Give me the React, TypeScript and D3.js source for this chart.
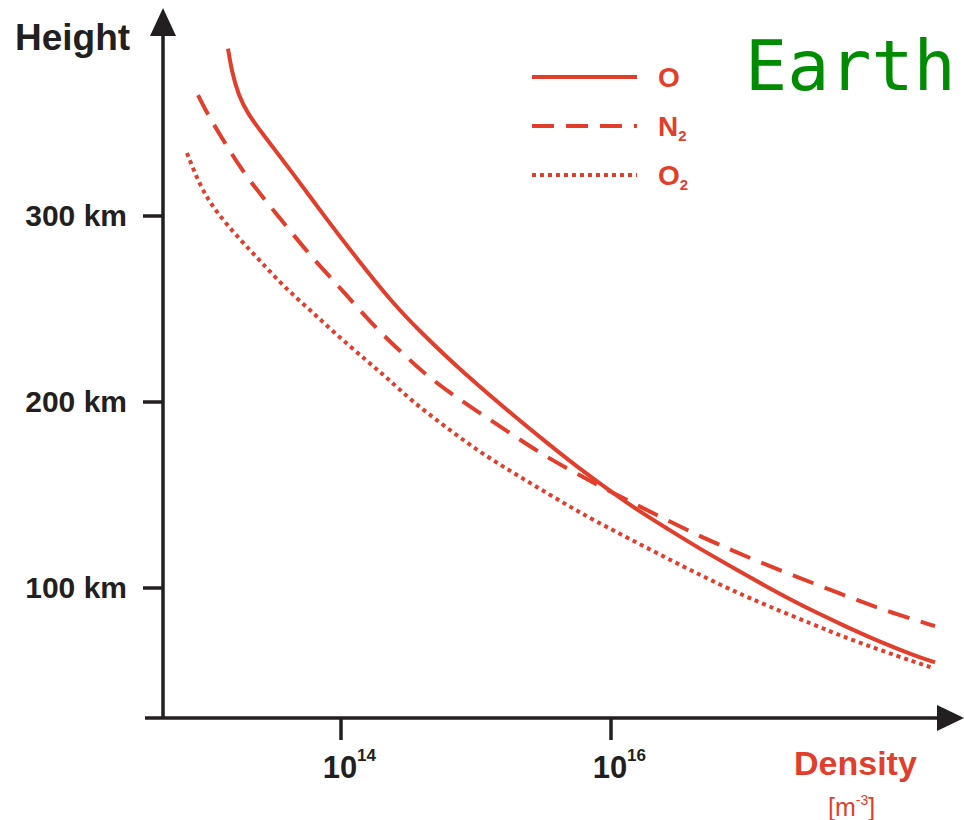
import React from "react";
import * as d3 from "d3";

// Data: log10(density [m^-3]) and height [km]
const oLogDensity = [13.163, 13.19, 13.24, 13.31, 13.40, 13.644, 13.896, 14.141, 14.385, 14.585, 14.785, 15.03, 15.274, 15.526, 15.77, 16.015, 16.215, 16.415, 16.659, 16.904, 17.156, 17.4, 17.748, 17.993, 18.237, 18.4];
const oHeight = [390, 378, 365, 355, 346, 323, 298, 275, 253, 238, 224, 208, 193, 178, 164, 151, 141, 132, 121, 111, 100.5, 91, 79, 71, 64, 60];

const n2LogDensity = [12.941, 13.007, 13.126, 13.274, 13.437, 13.6, 13.77, 13.94, 14.119, 14.289, 14.474, 14.607, 14.807, 15.03, 15.252, 15.474, 15.696, 16.015, 16.385, 16.637, 16.859, 17.081, 17.326, 17.57, 17.822, 18.067, 18.4];
const n2Height = [365, 355.4, 340.9, 323.7, 308.6, 294.1, 279, 265.6, 251, 237.5, 225, 216, 204.8, 194, 183.3, 172.6, 163.4, 151, 137.6, 128.5, 121.5, 114.5, 107.5, 100.5, 93.5, 87, 79.5];

const o2LogDensity = [12.859, 12.956, 13.067, 13.23, 13.4, 13.57, 13.77, 13.97, 14.193, 14.341, 14.533, 14.785, 15.03, 15.274, 15.526, 15.77, 16.015, 16.415, 16.659, 16.904, 17.156, 17.496, 17.748, 17.993, 18.237, 18.385];
const o2Height = [333.9, 316, 303, 289, 276, 262.5, 249.5, 236, 222, 213, 200, 186, 173, 162, 151, 140.5, 131, 116, 107, 98.5, 90.5, 80.5, 73, 66.7, 60.5, 57];

const yTicks = [100, 200, 300];
const yTickLabels = ["100 km", "200 km", "300 km"];
const xTickExponents = [14, 16];

const seriesNames = ["O", "N", "O"];
const seriesSubs = ["", "2", "2"];

const RED = "#e13f2c";
const DARK = "#231f20";
const FONT = "'Liberation Sans', Arial, sans-serif";

export default function App() {
  const x = d3.scaleLog().domain([1e14, 1e16]).range([341, 611]);
  const y = d3.scaleLinear().domain([100, 300]).range([588, 216]);

  const xAxisY = 718;
  const yAxisX = 163;

  const line = d3
    .line<[number, number]>()
    .x((d) => x(Math.pow(10, d[0])))
    .y((d) => y(d[1]))
    .curve(d3.curveBasis);

  const series = [
    { ld: oLogDensity, h: oHeight, dash: undefined as string | undefined },
    { ld: n2LogDensity, h: n2Height, dash: "22 12" },
    { ld: o2LogDensity, h: o2Height, dash: "4 4" },
  ];

  const legendY = [77, 126, 175];

  return (
    <svg
      width={964}
      height={820}
      style={{ position: "absolute", left: 0, top: 0, display: "block", background: "#fff" }}
      fontFamily={FONT}
    >
      {/* Curves */}
      {series.map((s, i) => (
        <path
          key={i}
          d={line(s.ld.map((v, j) => [v, s.h[j]] as [number, number])) || ""}
          fill="none"
          stroke={RED}
          strokeWidth={4}
          strokeDasharray={s.dash}
        />
      ))}

      {/* Y axis */}
      <line x1={yAxisX} x2={yAxisX} y1={xAxisY} y2={30} stroke={DARK} strokeWidth={3.5} />
      <path d={`M${yAxisX},8 L${yAxisX + 13},36 L${yAxisX - 13},36 Z`} fill={DARK} />
      {yTicks.map((t, i) => (
        <g key={t}>
          <line x1={yAxisX - 20} x2={yAxisX} y1={y(t)} y2={y(t)} stroke={DARK} strokeWidth={3.5} />
          <text x={127} y={y(t) + 10} textAnchor="end" fontSize={30} fontWeight="bold" fill={DARK}>
            {yTickLabels[i]}
          </text>
        </g>
      ))}
      <text x={15} y={50} fontSize={37} fontWeight="bold" fill={DARK}>
        Height
      </text>

      {/* X axis */}
      <line x1={145} x2={945} y1={xAxisY} y2={xAxisY} stroke={DARK} strokeWidth={3.5} />
      <path d={`M964,${xAxisY} L937,${xAxisY - 13} L937,${xAxisY + 13} Z`} fill={DARK} />
      {xTickExponents.map((e) => {
        const px = x(Math.pow(10, e));
        return (
          <g key={e}>
            <line x1={px} x2={px} y1={xAxisY} y2={xAxisY + 22} stroke={DARK} strokeWidth={3.5} />
            <text x={px - 1} y={778} textAnchor="middle" fontSize={31} fontWeight="bold" fill={DARK}>
              10
            </text>
            <text x={px + 16} y={761} fontSize={17} fontWeight="bold" fill={DARK}>
              {e}
            </text>
          </g>
        );
      })}
      <text x={794} y={775} fontSize={34} fontWeight="bold" fill={RED}>
        Density
      </text>
      <text x={828} y={816} fontSize={25} fill={RED}>
        [m
        <tspan dy={-11} fontSize={14}>-3</tspan>
        <tspan dy={11}>]</tspan>
      </text>

      {/* Legend */}
      {series.map((s, i) => (
        <g key={i}>
          <line
            x1={532}
            x2={637}
            y1={legendY[i]}
            y2={legendY[i]}
            stroke={RED}
            strokeWidth={4}
            strokeDasharray={s.dash}
          />
          <text x={658} y={legendY[i] + 10} fontSize={28} fontWeight="bold" fill={RED}>
            {seriesNames[i]}
            {seriesSubs[i] && (
              <tspan dy={5} fontSize={15}>
                {seriesSubs[i]}
              </tspan>
            )}
          </text>
        </g>
      ))}

      {/* Title */}
      <text x={745} y={90} fontSize={70} fill="#008c00" fontFamily="'DejaVu Sans Mono', monospace">
        Earth
      </text>
    </svg>
  );
}
